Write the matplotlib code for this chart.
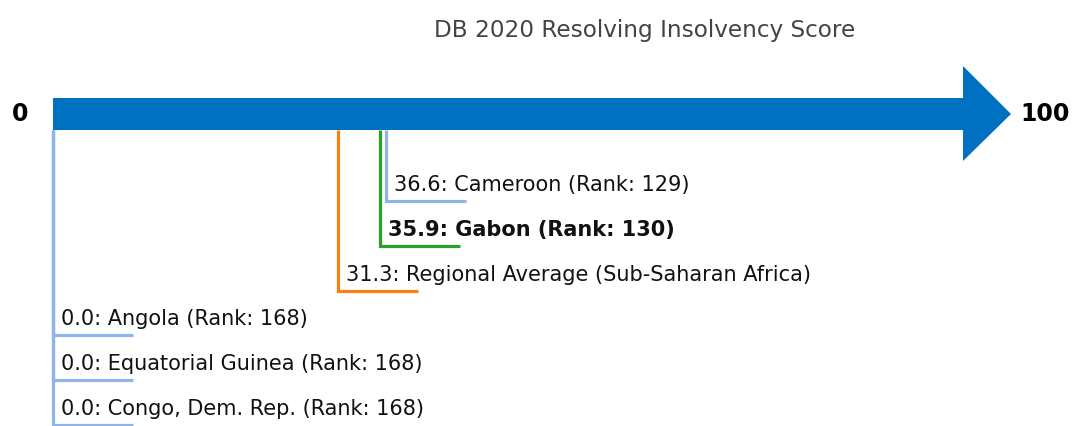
import matplotlib.pyplot as plt
from matplotlib.patches import Polygon

# scores, labels and colours for each economy shown under the arrow
names = ["Cameroon", "Gabon", "Regional Average (Sub-Saharan Africa)",
         "Angola", "Equatorial Guinea", "Congo, Dem. Rep."]
scores = [36.6, 35.9, 31.3, 0.0, 0.0, 0.0]
ranks = [129, 130, None, 168, 168, 168]
colors = ["#8fb4ec", "#2ca02c", "#ff7f0e", "#8fb4ec", "#8fb4ec", "#8fb4ec"]
bold = [False, True, False, False, False, False]

title = "DB 2020 Resolving Insolvency Score"
W, H = 1072, 426
px_per_unit = 9.1
x0_px = 53

fig = plt.figure(figsize=(W / 100, H / 100), dpi=100)
ax = fig.add_axes([0, 0, 1, 1])
ax.set_xlim(-x0_px / px_per_unit, (W - x0_px) / px_per_unit)
ax.set_ylim(H, 0)
ax.axis("off")

# main arrow: bar from 0 to 100 plus a triangular head
bar_top, bar_bot = 98, 130
head_top, head_bot, mid = 66, 161, 114
head_len = 48 / px_per_unit
arrow = Polygon([(0, bar_top), (100, bar_top), (100, head_top),
                 (100 + head_len, mid), (100, head_bot), (100, bar_bot),
                 (0, bar_bot)], closed=True, facecolor="#0070c0",
                edgecolor="none", zorder=3)
ax.add_patch(arrow)

ax.text(-3.6, mid, "0", ha="center", va="center", fontsize=17,
        fontweight="bold")
ax.text(100 + head_len + 1.0, mid, "100", ha="left", va="center",
        fontsize=17, fontweight="bold")

ax.text(65, 30, title, ha="center", va="center", fontsize=16.7,
        color="#444444")

# leader lines hanging from the arrow, one step lower per entry
first_level, step = 201, 44.8
tick_len = 8.8
for i, (n, s, r, c, b) in enumerate(zip(names, scores, ranks, colors, bold)):
    yl = first_level + i * step
    ax.plot([s, s, s + tick_len], [bar_bot, yl, yl], color=c, lw=2.3,
            solid_joinstyle="miter", solid_capstyle="butt", zorder=2)
    label = f"{s:.1f}: {n}" if r is None else f"{s:.1f}: {n} (Rank: {r})"
    ax.text(s + 0.9, yl - 16, label, ha="left", va="center", fontsize=15,
            fontweight="bold" if b else "normal", color="#111111")

fig.savefig("out.png", dpi=100)
